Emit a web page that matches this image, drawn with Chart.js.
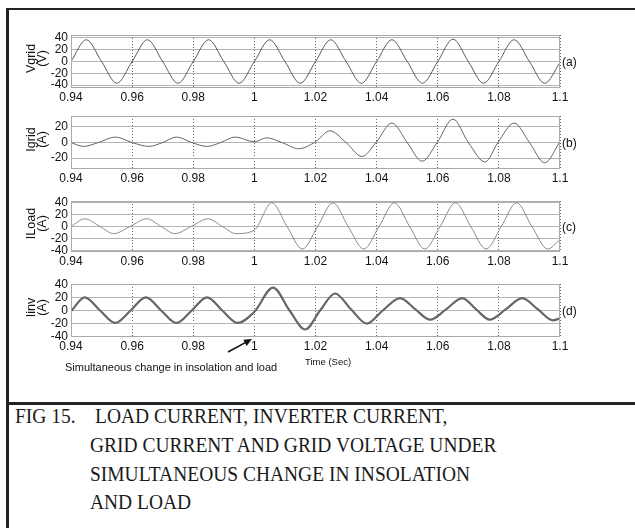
<!DOCTYPE html>
<html>
<head>
<meta charset="utf-8">
<script src="https://cdn.jsdelivr.net/npm/chart.js@4.4.0/dist/chart.umd.min.js"></script>
<style>
  body { margin: 0; background: #fff; }
  #wrap { position: relative; width: 635px; height: 528px; overflow: hidden; font-family: "Liberation Sans", Arial, sans-serif; }
  canvas.plot { position: absolute; left: 0; }
  .rule { position: absolute; background: #222; }
  .cap { position: absolute; font-family: "Liberation Serif", "Times New Roman", serif; font-size: 22px; color: #1a1a1a;
         white-space: pre; transform: scaleX(0.885); transform-origin: 0 0; line-height: 29px; }
  .note { position: absolute; font-size: 11px; line-height: 13px; color: #111; white-space: pre; }
</style>
</head>
<body>
<div id="wrap">
  <div class="rule" style="left:6px; top:8px; width:629px; height:2px;"></div>
  <div class="rule" style="left:6px; top:8px; width:3px; height:520px;"></div>
  <div class="rule" style="left:6px; top:402px; width:629px; height:3px;"></div>

  <canvas class="plot" id="c1"></canvas>
  <canvas class="plot" id="c2"></canvas>
  <canvas class="plot" id="c3"></canvas>
  <canvas class="plot" id="c4"></canvas>

  <div class="note" style="left:65px; top:361px;">Simultaneous change in insolation and load</div>
  <div class="note" style="left:305px; top:355px; font-size:9.5px;">Time (Sec)</div>

  <div class="cap" style="left:15px; top:401px;">FIG 15.</div>
  <div class="cap" style="left:95px; top:401px;">LOAD CURRENT, INVERTER CURRENT,</div>
  <div class="cap" style="left:90px; top:430px;">GRID CURRENT AND GRID VOLTAGE UNDER</div>
  <div class="cap" style="left:90px; top:459px;">SIMULTANEOUS CHANGE IN INSOLATION</div>
  <div class="cap" style="left:90px; top:487px;">AND LOAD</div>
</div>
<script>
// x ticks shared by all four panels
const xTicks = [0.94, 0.96, 0.98, 1, 1.02, 1.04, 1.06, 1.08, 1.1];

// (a) grid voltage
const vgridT = [0.94, 0.945, 0.95, 0.955, 0.96, 0.965, 0.97, 0.975, 0.98, 0.985, 0.99, 0.995, 1.0,
                1.005, 1.01, 1.015, 1.02, 1.025, 1.03, 1.035, 1.04, 1.045, 1.05, 1.055, 1.06,
                1.065, 1.07, 1.075, 1.08, 1.085, 1.09, 1.095, 1.1];
const vgridV = [0, 37, 0, -37, 0, 37, 0, -37, 0, 37, 0, -37, 0,
                37, 0, -37, 0, 37, 0, -37, 0, 37, 0, -37, 0,
                38, 0, -37, 0, 37, 0, -37, -2];

// (b) grid current
const igridT = [0.94, 0.944, 0.949, 0.9545, 0.96, 0.9655, 0.97, 0.9745, 0.9795, 0.9845, 0.989, 0.9937, 1.0,
                1.004, 1.009, 1.0145, 1.02, 1.0247, 1.03, 1.0352, 1.0398, 1.045, 1.05, 1.0549, 1.0598,
                1.065, 1.07, 1.0755, 1.0797, 1.085, 1.09, 1.095, 1.1];
const igridV = [0, -5, 0, 7, 0, -5, 0, 7, 0, -5, 0, 7, 1,
                6, 0, -8, 1, 15, 0, -18, 0, 25, 0, -24, 0,
                30, 0, -25, 0, 25, 0, -26, 1];

// (c) load current
const iloadT = [0.94, 0.9445, 0.9495, 0.954, 0.9593, 0.9648, 0.9695, 0.974, 0.9793, 0.9848, 0.9895, 0.994, 1.0,
                1.0057, 1.0107, 1.0157, 1.0207, 1.0257, 1.0307, 1.0358, 1.0408, 1.0458, 1.0508, 1.0558, 1.0608,
                1.0658, 1.0708, 1.0758, 1.0808, 1.0858, 1.0908, 1.096, 1.1];
const iloadV = [0, 13, 0, -12, 0, 13, 0, -12, 0, 13, 0, -12, -6,
                40, 0, -38, 0, 40, 0, -38, 0, 40, 0, -38, 0,
                40, 0, -38, 0, 40, 0, -38, -22];

// (d) inverter current
const iinvT = [0.94, 0.9445, 0.9495, 0.9545, 0.9595, 0.9645, 0.9695, 0.9745, 0.9795, 0.9845, 0.9895, 0.9945, 1.0,
               1.0061, 1.0115, 1.0166, 1.0215, 1.0264, 1.0316, 1.0368, 1.042, 1.0477, 1.0526, 1.0575, 1.0628,
               1.068, 1.0725, 1.077, 1.0823, 1.0876, 1.0927, 1.0977, 1.1];
const iinvV = [-1, 20, 0, -19, 0, 20, 0, -19, 0, 20, 0, -19, -2,
               35, 0, -29, 0, 26, 2, -20, 0, 19, 2, -14, 2,
               19, 2, -14, 2, 19, 2, -15, -12];

const panels = [
  {id: 'c1', top: 35, bottom: 88, t: vgridT, v: vgridV, min: -45, max: 45, ticks: [40, 20, 0, -20, -40],
   title: ['Vgrid', '(V)'], tag: '(a)', color: '#5a5a5a', width: 1},
  {id: 'c2', top: 116, bottom: 169, t: igridT, v: igridV, min: -34, max: 34, ticks: [20, 0, -20],
   title: ['Igrid', '(A)'], tag: '(b)', color: '#666', width: 1},
  {id: 'c3', top: 201, bottom: 252, t: iloadT, v: iloadV, min: -43, max: 43, ticks: [40, 20, 0, -20, -40],
   title: ['ILoad', '(A)'], tag: '(c)', color: '#8a8a8a', width: 1},
  {id: 'c4', top: 284, bottom: 337, t: iinvT, v: iinvV, min: -40.5, max: 40.5, ticks: [40, 20, 0, -20, -40],
   title: ['Iinv', '(A)'], tag: '(d)', color: '#666', width: 2.2}
];

const FONT = '"Liberation Sans", Arial, sans-serif';
const PAD_TOP = 10, X_AXIS_H = 22, Y_AXIS_W = 71, PAD_RIGHT = 75;

// box outline, rotated y titles, panel tag
const decor = {
  id: 'decor',
  afterDraw(chart, args, opts) {
    const ctx = chart.ctx, a = chart.chartArea;
    ctx.save();
    ctx.strokeStyle = '#aaa';
    ctx.lineWidth = 1;
    ctx.strokeRect(a.left + 0.5, a.top + 0.5, a.right - a.left - 1, a.bottom - a.top - 1);
    ctx.fillStyle = '#111';
    ctx.font = '12.5px ' + FONT;
    ctx.textAlign = 'center';
    ctx.textBaseline = 'middle';
    const cy = (a.top + a.bottom) / 2 - 3;
    opts.title.forEach((s, i) => {
      ctx.save();
      ctx.translate(32 + i * 10.5, cy);
      ctx.rotate(-Math.PI / 2);
      ctx.fillText(s, 0, 0);
      ctx.restore();
    });
    ctx.textAlign = 'left';
    ctx.font = '12px ' + FONT;
    ctx.fillText(opts.tag, a.right + 2, (a.top + a.bottom) / 2 + 1);
    ctx.restore();
  }
};

// arrow pointing to the change instant
const arrow = {
  id: 'arrow',
  afterDraw(chart, args, opts) {
    if (!opts.on) return;
    const ctx = chart.ctx, top = chart.canvas.offsetTop;
    const x0 = 228, y0 = 352 - top, x1 = 252, y1 = 339 - top;
    const ang = Math.atan2(y1 - y0, x1 - x0);
    ctx.save();
    ctx.strokeStyle = '#111';
    ctx.fillStyle = '#111';
    ctx.lineWidth = 1.6;
    ctx.beginPath();
    ctx.moveTo(x0, y0);
    ctx.lineTo(x1 - 5 * Math.cos(ang), y1 - 5 * Math.sin(ang));
    ctx.stroke();
    ctx.beginPath();
    ctx.moveTo(x1, y1);
    ctx.lineTo(x1 - 8 * Math.cos(ang) + 3.5 * Math.sin(ang), y1 - 8 * Math.sin(ang) - 3.5 * Math.cos(ang));
    ctx.lineTo(x1 - 8 * Math.cos(ang) - 3.5 * Math.sin(ang), y1 - 8 * Math.sin(ang) + 3.5 * Math.cos(ang));
    ctx.closePath();
    ctx.fill();
    ctx.restore();
  }
};

panels.forEach((p, k) => {
  const cv = document.getElementById(p.id);
  const h = (p.bottom - p.top) + PAD_TOP + X_AXIS_H;
  cv.width = 635;
  cv.height = h;
  cv.style.top = (p.top - PAD_TOP) + 'px';

  new Chart(cv, {
    type: 'line',
    data: {
      datasets: [{
        data: p.t.map((x, i) => ({x: x, y: p.v[i]})),
        borderColor: p.color,
        borderWidth: p.width,
        pointRadius: 0,
        cubicInterpolationMode: 'monotone',
        fill: false
      }]
    },
    options: {
      responsive: false,
      animation: false,
      layout: {padding: {top: PAD_TOP, right: PAD_RIGHT, left: 0, bottom: 0}},
      plugins: {
        legend: {display: false},
        tooltip: {enabled: false},
        decor: {title: p.title, tag: p.tag},
        arrow: {on: k === 3}
      },
      scales: {
        x: {
          type: 'linear',
          min: 0.94,
          max: 1.1,
          afterBuildTicks: s => { s.ticks = xTicks.map(v => ({value: v})); },
          afterFit: s => { s.height = X_AXIS_H; },
          ticks: {
            color: '#111', padding: 2, maxRotation: 0, autoSkip: false,
            font: {family: FONT, size: 12},
            callback: v => String(Math.round(v * 100) / 100)
          },
          grid: {color: '#666', lineWidth: 1, drawTicks: false},
          border: {display: false, dash: [1, 2]}
        },
        y: {
          min: p.min,
          max: p.max,
          afterBuildTicks: s => { s.ticks = p.ticks.map(v => ({value: v})); },
          afterFit: s => { s.width = Y_AXIS_W; },
          ticks: {
            color: '#111', padding: 3, autoSkip: false,
            font: {family: FONT, size: 12, lineHeight: 1},
            callback: v => String(v)
          },
          grid: {color: '#b4b4b4', lineWidth: 1, drawTicks: false},
          border: {display: false}
        }
      }
    },
    plugins: [decor, arrow]
  });
});
</script>
</body>
</html>
